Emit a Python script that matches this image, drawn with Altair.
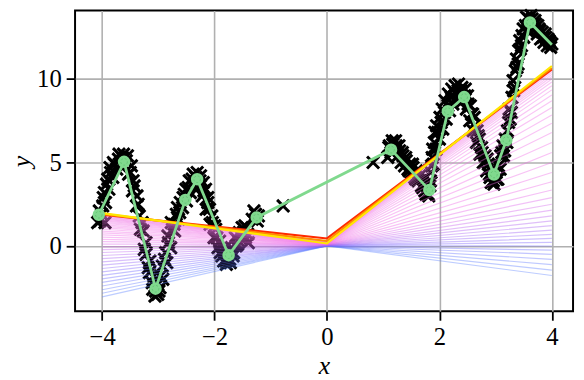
import altair as alt
import pandas as pd

# ---- noisy observations (black crosses) ----
cross_x = [-4.08, -4.05, -4.01, -3.98, -3.95, -3.94, -3.92, -3.88, -3.85, -3.81, -3.78, -3.74, -3.71, -3.67,
           -3.64, -3.60, -3.57, -3.53, -3.50, -3.46, -3.43, -3.39, -3.36, -3.32, -3.29, -3.25, -3.22, -3.18,
           -3.15, -3.11, -3.08, -3.05, -3.02, -2.99, -2.96, -2.92, -2.89, -2.85, -2.82, -2.78, -2.75, -2.71,
           -2.68, -2.64, -2.61, -2.57, -2.54, -2.50, -2.47, -2.43, -2.40, -2.36, -2.33, -2.29, -2.26, -2.22,
           -2.19, -2.15, -2.12, -2.08, -2.05, -2.01, -1.98, -1.94, -1.91, -1.87, -1.84, -1.80, -1.77, -1.73,
           -1.70, -1.66, -1.63, -1.59, -1.56, -1.52, -1.49, -1.45, -1.43, -1.40, -1.33, -1.27, -1.22,
           -0.78, 0.82,
           1.08, 1.11, 1.14, 1.17, 1.20, 1.23, 1.26, 1.29, 1.32, 1.35, 1.38, 1.41, 1.44, 1.47, 1.50, 1.53,
           1.56, 1.59, 1.62, 1.65, 1.68, 1.71, 1.74, 1.77, 1.80, 1.83, 1.85, 1.87, 1.89, 1.91, 1.94, 1.97,
           2.00, 2.03, 2.06, 2.09, 2.12, 2.15, 2.18, 2.21, 2.24, 2.27, 2.30, 2.33, 2.36, 2.39, 2.42, 2.45,
           2.48, 2.51, 2.54, 2.57, 2.60, 2.63, 2.66, 2.69, 2.72, 2.75, 2.78, 2.81, 2.84, 2.87, 2.90, 2.93,
           2.96, 2.99, 3.02, 3.05, 3.08, 3.11, 3.14, 3.17, 3.20, 3.23, 3.26, 3.29, 3.32, 3.35, 3.38, 3.41,
           3.44, 3.47, 3.50, 3.53, 3.56, 3.59, 3.62, 3.65, 3.68, 3.71, 3.74, 3.77, 3.80, 3.83, 3.86, 3.89,
           3.92, 3.95, 3.98, 4.00,
           -4.04, -3.99, -3.96, -3.90, -3.86, -3.80, -3.70, -3.62, -3.55, -3.48, -3.45, -3.38, -3.34, -3.27,
           -3.22, -3.16, -3.10, -3.06, -3.01, -2.97, -2.93, -2.87, -2.83, -2.77, -2.72, -2.66, -2.62, -2.56,
           -2.51, -2.45, -2.38, -2.31, -2.25, -2.20, -2.16, -2.12, -2.09, -2.04, -2.00, -1.96, -1.90, -1.84,
           -1.79, -1.72, -1.67, -1.62, -1.57, -1.51, -1.46, -1.41, -1.30, -1.24,
           1.10, 1.16, 1.22, 1.28, 1.34, 1.40, 1.46, 1.52, 1.58, 1.64, 1.70, 1.76, 1.81, 1.84, 1.86, 1.88,
           1.92, 1.95, 2.01, 2.05, 2.10, 2.16, 2.22, 2.28, 2.34, 2.40, 2.46, 2.50, 2.55, 2.59, 2.62, 2.67,
           2.71, 2.76, 2.80, 2.85, 2.89, 2.92, 2.97, 3.01, 3.04, 3.09, 3.13, 3.16, 3.21, 3.24, 3.28, 3.31,
           3.34, 3.37, 3.40, 3.43, 3.46, 3.49, 3.55, 3.58, 3.63, 3.66, 3.70, 3.75, 3.79, 3.84, 3.88, 3.93,
           3.97]
cross_y = [1.4, 2.1, 1.9, 2.9, 1.4, 2.6, 3.7, 3.4, 4.4, 4.1, 4.9, 4.6, 5.2, 4.8,
           5.3, 4.8, 5.1, 4.3, 4.4, 3.3, 3.6, 2.4, 2.5, 1.0, 1.4, -0.2, 0.2, -1.3,
           -0.9, -2.2, -1.8, -2.7, -2.2, -2.7, -1.8, -2.0, -0.8, -1.0, 0.2, -0.1, 1.0, 0.9,
           1.9, 1.6, 2.6, 2.3, 3.1, 2.7, 3.5, 3.2, 4.0, 3.6, 4.1, 3.5, 3.9, 3.0,
           3.3, 2.2, 2.6, 1.3, 1.8, 0.5, 1.0, -0.1, 0.3, -0.6, -0.2, -0.9, -0.4, -0.8,
           -0.1, -0.4, 0.5, 0.1, 0.8, 0.4, 0.8, 0.5, 1.1, 0.2, 1.6, 1.9, 1.8,
           2.4, 5.0,
           5.3, 6.0, 5.6, 6.1, 5.7, 6.0, 5.4, 5.7, 5.0, 5.4, 4.8, 5.1, 4.6, 4.9, 4.4, 4.7,
           4.1, 4.5, 3.9, 4.2, 3.6, 4.0, 3.3, 3.7, 3.1, 3.6, 4.4, 5.3, 4.9, 6.2, 5.8, 6.8,
           6.4, 7.4, 7.0, 8.0, 7.6, 8.4, 8.1, 8.9, 8.5, 9.2, 8.8, 9.3, 8.8, 9.3, 8.7, 9.0,
           8.2, 8.5, 7.5, 7.9, 6.9, 7.2, 6.2, 6.6, 5.5, 5.9, 5.0, 5.4, 4.5, 4.9, 4.1, 4.6,
           3.9, 4.4, 4.0, 4.8, 4.6, 5.6, 5.4, 6.4, 6.2, 7.4, 7.6, 8.9, 9.3, 10.5, 10.7, 11.7,
           11.8, 12.6, 12.5, 13.2, 12.9, 13.6, 13.2, 13.6, 13.0, 13.3, 12.7, 13.0, 12.4, 12.8, 12.2, 12.5,
           12.0, 12.3, 11.9, 12.1,
           1.5, 2.4, 3.2, 4.0, 4.7, 5.0, 5.5, 5.5, 5.4, 4.8, 3.9, 3.0, 1.8, 0.9,
           -0.5, -1.6, -2.6, -3.0, -2.9, -2.5, -1.2, -0.4, 0.6, 1.4, 1.3, 2.3, 2.0, 2.9,
           3.4, 3.9, 4.3, 4.4, 4.2, 3.8, 3.4, 2.9, 2.2, 1.4, 1.2, 0.5, -0.4, -0.9,
           -1.1, -1.0, -0.6, 0.0, 0.3, 1.1, 1.2, 0.7, 2.1, 1.5,
           5.9, 6.3, 6.3, 6.0, 5.6, 5.3, 4.5, 4.9, 4.0, 4.5, 3.5, 3.1, 3.0, 3.9, 4.8, 5.8,
           6.8, 7.2, 7.7, 8.2, 8.7, 9.1, 9.4, 9.6, 9.7, 9.5, 9.4, 9.0, 8.4, 7.9, 7.7, 6.9,
           6.4, 5.6, 5.0, 5.2, 4.3, 3.8, 3.7, 4.4, 4.0, 5.4, 6.0, 5.7, 6.9, 8.2, 8.0, 9.9,
           9.5, 11.2, 10.9, 12.3, 12.0, 13.0, 13.7, 13.0, 13.8, 13.3, 13.5, 13.2, 12.9, 12.5, 12.7, 12.4,
           12.2]

# ---- green polyline with circle markers ----
green_x = [-4.06, -3.61, -3.05, -2.52, -2.31, -1.75, -1.25, 1.14, 1.82, 2.15, 2.44, 2.97, 3.19, 3.61, 4.00]
green_y = [1.87, 5.04, -2.56, 2.76, 4.00, -0.55, 1.71, 5.77, 3.35, 8.07, 8.92, 4.28, 6.34, 13.39, 12.05]
green_marked = [True] * 14 + [False]

# ---- family of piecewise-linear fits (kink at x = 0) ----
knots = [-4.0, 0.0, 4.0]
fit_left = [-3.05, -2.83, -2.62, -2.40, -2.18, -1.97, -1.76, -1.55, -1.35, -1.15,
            -0.95, -0.76, -0.57, -0.39, -0.22, -0.05, 0.11, 0.26, 0.40, 0.53,
            0.66, 0.78, 0.89, 1.00, 1.10, 1.19, 1.28, 1.36, 1.43, 1.50,
            1.56, 1.62, 1.67, 1.72, 1.76, 1.80, 1.84, 1.88, 1.92, 1.97]
fit_mid = [0.00, 0.00, 0.00, 0.00, 0.00, 0.01, 0.01, 0.02, 0.02, 0.03,
           0.03, 0.04, 0.05, 0.06, 0.07, 0.08, 0.09, 0.10, 0.11, 0.12,
           0.13, 0.14, 0.15, 0.16, 0.17, 0.18, 0.19, 0.20, 0.21, 0.22,
           0.23, 0.24, 0.25, 0.26, 0.27, 0.28, 0.29, 0.45, 0.30, 0.15]
fit_right = [-1.77, -1.45, -1.12, -0.80, -0.50, -0.25, 0.00, 0.22, 0.45, 0.70,
             0.95, 1.22, 1.50, 1.80, 2.15, 2.50, 2.90, 3.35, 3.85, 4.40,
             5.00, 5.60, 6.20, 6.80, 7.35, 7.85, 8.30, 8.70, 9.05, 9.35,
             9.60, 9.82, 10.00, 10.15, 10.28, 10.40, 10.50, 10.58, 10.66, 10.78]

rows = []
for k in range(len(fit_left)):
    for xv, yv in zip(knots, [fit_left[k], fit_mid[k], fit_right[k]]):
        rows.append({"k": k, "x": xv, "y": yv})
fits = pd.DataFrame(rows)
n_fit = len(fit_left)
fits_light = fits[fits.k < n_fit - 3]
fits_final = fits[fits.k >= n_fit - 3]

crosses = pd.DataFrame({"x": cross_x, "y": cross_y})
green = pd.DataFrame({"x": green_x, "y": green_y, "m": green_marked})

FONT = "Liberation Serif"
xscale = alt.Scale(domain=[-4.482, 4.377], nice=False, zero=False)
yscale = alt.Scale(domain=[-3.916, 14.10], nice=False, zero=False)

xax = alt.Axis(values=[-4, -2, 0, 2, 4], format="d", grid=True, gridColor="#b0b0b0", gridWidth=1.6,
               domain=False, tickColor="black", tickWidth=1.8, tickSize=9, labelFont=FONT,
               labelFontSize=25, labelColor="black", labelPadding=5, title="x", titleFont=FONT,
               titleFontSize=26, titleFontStyle="italic", titleFontWeight="normal", titleColor="black",
               titlePadding=3)
yax = alt.Axis(values=[0, 5, 10], format="d", grid=True, gridColor="#b0b0b0", gridWidth=1.6,
               domain=False, tickColor="black", tickWidth=1.8, tickSize=9, labelFont=FONT,
               labelFontSize=25, labelColor="black", labelPadding=5, title="y", titleFont=FONT,
               titleFontSize=26, titleFontStyle="italic", titleFontWeight="normal", titleColor="black",
               titlePadding=2)

XSHAPE = "M-1,-1L1,1M-1,1L1,-1"

base_cross = alt.Chart(crosses).mark_point(shape=XSHAPE, filled=False, color="black",
                                           strokeWidth=3, size=150, opacity=1).encode(
    x=alt.X("x:Q", scale=xscale, axis=xax),
    y=alt.Y("y:Q", scale=yscale, axis=yax),
)

light = alt.Chart(fits_light).mark_line(strokeWidth=1.2, opacity=0.4).encode(
    x=alt.X("x:Q", scale=xscale),
    y=alt.Y("y:Q", scale=yscale),
    detail="k:N",
    color=alt.Color("k:Q", legend=None,
                    scale=alt.Scale(domain=[0, 6, 12, 18, 36],
                                    range=["#5a80ff", "#6f66ff", "#b060f0", "#ee66e6", "#f27ae6"])),
)

final = alt.Chart(fits_final).mark_line(strokeWidth=2.2, opacity=1).encode(
    x=alt.X("x:Q", scale=xscale),
    y=alt.Y("y:Q", scale=yscale),
    detail="k:N",
    color=alt.Color("k:O", legend=None,
                    scale=alt.Scale(domain=[n_fit - 3, n_fit - 2, n_fit - 1],
                                    range=["#ff2a00", "#ff8c00", "#ffe600"])),
)

gline = alt.Chart(green).mark_line(color="#80d98e", strokeWidth=2.8).encode(
    x=alt.X("x:Q", scale=xscale),
    y=alt.Y("y:Q", scale=yscale),
)
gdots = alt.Chart(green).transform_filter("datum.m").mark_point(
    shape="circle", filled=True, color="#80d98e", size=160, opacity=1).encode(
    x=alt.X("x:Q", scale=xscale),
    y=alt.Y("y:Q", scale=yscale),
)
gring = alt.Chart(green).transform_filter("datum.m").mark_point(
    shape="circle", filled=False, color="#5dbf6c", size=45, strokeWidth=0.8,
    strokeDash=[2, 2], opacity=1).encode(
    x=alt.X("x:Q", scale=xscale),
    y=alt.Y("y:Q", scale=yscale),
)

chart = alt.layer(base_cross, light, final, gline, gdots, gring).resolve_scale(color="independent").properties(
    width=505, height=305,
    background="white",
    autosize=alt.AutoSizeParams(type="none"),
    padding={"left": 68, "top": 0, "right": 3, "bottom": 67},
).configure_view(stroke="black", strokeWidth=2)

chart.save("out.html", embed_options={"renderer": "svg", "actions": False})
